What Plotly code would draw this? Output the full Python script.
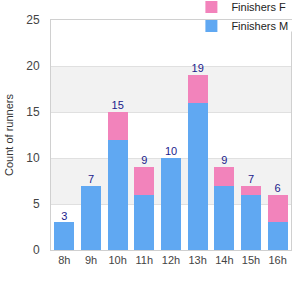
import plotly.graph_objects as go

hours = ["8h", "9h", "10h", "11h", "12h", "13h", "14h", "15h", "16h"]
males = [3, 7, 12, 6, 10, 16, 7, 6, 3]
females = [0, 0, 3, 3, 0, 3, 2, 1, 3]
totals = [m + f for m, f in zip(males, females)]

blue = "#60a8f2"
pink = "#f283bb"

fig = go.Figure()
fig.add_trace(go.Bar(x=hours, y=males, name="Finishers M", marker=dict(color=blue, line=dict(width=0))))
fig.add_trace(go.Bar(x=hours, y=females, name="Finishers F", marker=dict(color=pink, line=dict(width=0))))
fig.add_trace(go.Scatter(x=hours, y=totals, mode="text", text=[str(t) for t in totals],
                         textposition="top center", textfont=dict(color="#1a1a8c", size=11),
                         showlegend=False, hoverinfo="skip"))

shapes = []
for lo in (5, 15):
    shapes.append(dict(type="rect", xref="paper", yref="y", x0=0, x1=1, y0=lo, y1=lo + 5,
                       fillcolor="#f2f2f2", line=dict(width=0), layer="below"))

fig.update_layout(
    barmode="stack",
    bargap=0.25,
    width=300, height=300,
    margin=dict(l=51, r=9, t=20, b=50, autoexpand=False),
    paper_bgcolor="white", plot_bgcolor="white",
    font=dict(family="Liberation Sans", size=11, color="#444"),
    shapes=shapes,
    legend=dict(x=0.585, y=1.12, xref="paper", yref="paper", xanchor="left", yanchor="top",
                traceorder="reversed", bgcolor="rgba(255,255,255,0)", font=dict(size=11, color="#222"),
                itemsizing="constant", tracegroupgap=0),
    xaxis=dict(showline=True, linecolor="#d0d0d0", mirror=True, showgrid=False, ticks="",
               tickangle=0, tickfont=dict(size=11, color="#444")),
    yaxis=dict(range=[0, 25], dtick=5, showline=True, linecolor="#d0d0d0", mirror=True,
               gridcolor="#e0e0e0", zeroline=False, ticks="", ticklabelstandoff=8,
               title=dict(text="Count of runners", font=dict(size=11, color="#333"), standoff=10),
               tickfont=dict(size=12, color="#444")),
)
fig.add_shape(type="rect", xref="paper", yref="paper", x0=0.62, x1=1.0375, y0=1.0, y1=0.95,
              fillcolor="white", line=dict(width=0), layer="above")
fig.write_html("out.html")
